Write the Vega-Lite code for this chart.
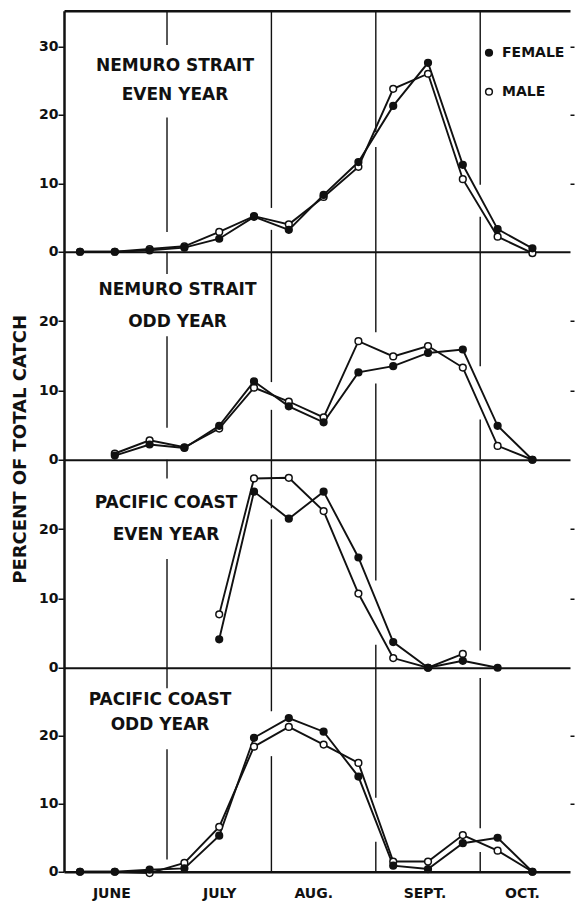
{
  "$schema": "https://vega.github.io/schema/vega-lite/v6.json",
  "usermeta": {"embedOptions": {"actions": false}},
  "background": "white",
  "padding": {"left": 12, "top": 9.75, "right": 0, "bottom": 0},
  "title": {"text": "PERCENT OF TOTAL CATCH", "orient": "left", "anchor": "middle", "offset": 8.5, "dx": 6, "font": "DejaVu Sans", "fontSize": 18, "fontWeight": "bold", "color": "#111"},
  "config": {
    "view": {"stroke": null},
    "font": "DejaVu Sans",
    "axis": {"labelFont": "DejaVu Sans", "labelFontWeight": "bold", "labelFontSize": 14, "labelColor": "#111", "domainColor": "#111", "tickColor": "#111", "grid": false}
  },
  "datasets": {
    "catch": [
      {"panel": "NE", "sex": "MALE", "period": 0, "percent": 0},
      {"panel": "NE", "sex": "MALE", "period": 1, "percent": 0},
      {"panel": "NE", "sex": "MALE", "period": 2, "percent": 0.4},
      {"panel": "NE", "sex": "MALE", "period": 3, "percent": 0.8},
      {"panel": "NE", "sex": "MALE", "period": 4, "percent": 2.9},
      {"panel": "NE", "sex": "MALE", "period": 5, "percent": 5.2},
      {"panel": "NE", "sex": "MALE", "period": 6, "percent": 4.0},
      {"panel": "NE", "sex": "MALE", "period": 7, "percent": 8.0},
      {"panel": "NE", "sex": "MALE", "period": 8, "percent": 12.4},
      {"panel": "NE", "sex": "MALE", "period": 9, "percent": 23.8},
      {"panel": "NE", "sex": "MALE", "period": 10, "percent": 26.0},
      {"panel": "NE", "sex": "MALE", "period": 11, "percent": 10.6},
      {"panel": "NE", "sex": "MALE", "period": 12, "percent": 2.2},
      {"panel": "NE", "sex": "MALE", "period": 13, "percent": -0.2},
      {"panel": "NO", "sex": "MALE", "period": 1, "percent": 0.9},
      {"panel": "NO", "sex": "MALE", "period": 2, "percent": 2.8},
      {"panel": "NO", "sex": "MALE", "period": 3, "percent": 1.8},
      {"panel": "NO", "sex": "MALE", "period": 4, "percent": 4.5},
      {"panel": "NO", "sex": "MALE", "period": 5, "percent": 10.4},
      {"panel": "NO", "sex": "MALE", "period": 6, "percent": 8.4},
      {"panel": "NO", "sex": "MALE", "period": 7, "percent": 6.1},
      {"panel": "NO", "sex": "MALE", "period": 8, "percent": 17.1},
      {"panel": "NO", "sex": "MALE", "period": 9, "percent": 14.9},
      {"panel": "NO", "sex": "MALE", "period": 10, "percent": 16.4},
      {"panel": "NO", "sex": "MALE", "period": 11, "percent": 13.3},
      {"panel": "NO", "sex": "MALE", "period": 12, "percent": 2.0},
      {"panel": "NO", "sex": "MALE", "period": 13, "percent": 0},
      {"panel": "PE", "sex": "MALE", "period": 4, "percent": 7.7},
      {"panel": "PE", "sex": "MALE", "period": 5, "percent": 27.3},
      {"panel": "PE", "sex": "MALE", "period": 6, "percent": 27.4},
      {"panel": "PE", "sex": "MALE", "period": 7, "percent": 22.6},
      {"panel": "PE", "sex": "MALE", "period": 8, "percent": 10.7},
      {"panel": "PE", "sex": "MALE", "period": 9, "percent": 1.4},
      {"panel": "PE", "sex": "MALE", "period": 10, "percent": 0},
      {"panel": "PE", "sex": "MALE", "period": 11, "percent": 2.0},
      {"panel": "PO", "sex": "MALE", "period": 0, "percent": 0},
      {"panel": "PO", "sex": "MALE", "period": 1, "percent": 0},
      {"panel": "PO", "sex": "MALE", "period": 2, "percent": -0.2},
      {"panel": "PO", "sex": "MALE", "period": 3, "percent": 1.3},
      {"panel": "PO", "sex": "MALE", "period": 4, "percent": 6.6},
      {"panel": "PO", "sex": "MALE", "period": 5, "percent": 18.4},
      {"panel": "PO", "sex": "MALE", "period": 6, "percent": 21.3},
      {"panel": "PO", "sex": "MALE", "period": 7, "percent": 18.7},
      {"panel": "PO", "sex": "MALE", "period": 8, "percent": 16.0},
      {"panel": "PO", "sex": "MALE", "period": 9, "percent": 1.5},
      {"panel": "PO", "sex": "MALE", "period": 10, "percent": 1.5},
      {"panel": "PO", "sex": "MALE", "period": 11, "percent": 5.4},
      {"panel": "PO", "sex": "MALE", "period": 12, "percent": 3.1},
      {"panel": "PO", "sex": "MALE", "period": 13, "percent": 0},
      {"panel": "NE", "sex": "FEMALE", "period": 0, "percent": 0},
      {"panel": "NE", "sex": "FEMALE", "period": 1, "percent": 0},
      {"panel": "NE", "sex": "FEMALE", "period": 2, "percent": 0.2},
      {"panel": "NE", "sex": "FEMALE", "period": 3, "percent": 0.6},
      {"panel": "NE", "sex": "FEMALE", "period": 4, "percent": 1.9},
      {"panel": "NE", "sex": "FEMALE", "period": 5, "percent": 5.1},
      {"panel": "NE", "sex": "FEMALE", "period": 6, "percent": 3.2},
      {"panel": "NE", "sex": "FEMALE", "period": 7, "percent": 8.3},
      {"panel": "NE", "sex": "FEMALE", "period": 8, "percent": 13.1},
      {"panel": "NE", "sex": "FEMALE", "period": 9, "percent": 21.3},
      {"panel": "NE", "sex": "FEMALE", "period": 10, "percent": 27.6},
      {"panel": "NE", "sex": "FEMALE", "period": 11, "percent": 12.7},
      {"panel": "NE", "sex": "FEMALE", "period": 12, "percent": 3.3},
      {"panel": "NE", "sex": "FEMALE", "period": 13, "percent": 0.5},
      {"panel": "NO", "sex": "FEMALE", "period": 1, "percent": 0.6},
      {"panel": "NO", "sex": "FEMALE", "period": 2, "percent": 2.2},
      {"panel": "NO", "sex": "FEMALE", "period": 3, "percent": 1.7},
      {"panel": "NO", "sex": "FEMALE", "period": 4, "percent": 4.9},
      {"panel": "NO", "sex": "FEMALE", "period": 5, "percent": 11.3},
      {"panel": "NO", "sex": "FEMALE", "period": 6, "percent": 7.7},
      {"panel": "NO", "sex": "FEMALE", "period": 7, "percent": 5.4},
      {"panel": "NO", "sex": "FEMALE", "period": 8, "percent": 12.6},
      {"panel": "NO", "sex": "FEMALE", "period": 9, "percent": 13.5},
      {"panel": "NO", "sex": "FEMALE", "period": 10, "percent": 15.4},
      {"panel": "NO", "sex": "FEMALE", "period": 11, "percent": 15.9},
      {"panel": "NO", "sex": "FEMALE", "period": 12, "percent": 4.9},
      {"panel": "NO", "sex": "FEMALE", "period": 13, "percent": 0},
      {"panel": "PE", "sex": "FEMALE", "period": 4, "percent": 4.1},
      {"panel": "PE", "sex": "FEMALE", "period": 5, "percent": 25.4},
      {"panel": "PE", "sex": "FEMALE", "period": 6, "percent": 21.5},
      {"panel": "PE", "sex": "FEMALE", "period": 7, "percent": 25.4},
      {"panel": "PE", "sex": "FEMALE", "period": 8, "percent": 15.9},
      {"panel": "PE", "sex": "FEMALE", "period": 9, "percent": 3.7},
      {"panel": "PE", "sex": "FEMALE", "period": 10, "percent": 0},
      {"panel": "PE", "sex": "FEMALE", "period": 11, "percent": 1.0},
      {"panel": "PE", "sex": "FEMALE", "period": 12, "percent": 0},
      {"panel": "PO", "sex": "FEMALE", "period": 0, "percent": 0},
      {"panel": "PO", "sex": "FEMALE", "period": 1, "percent": 0},
      {"panel": "PO", "sex": "FEMALE", "period": 2, "percent": 0.3},
      {"panel": "PO", "sex": "FEMALE", "period": 3, "percent": 0.5},
      {"panel": "PO", "sex": "FEMALE", "period": 4, "percent": 5.3},
      {"panel": "PO", "sex": "FEMALE", "period": 5, "percent": 19.7},
      {"panel": "PO", "sex": "FEMALE", "period": 6, "percent": 22.6},
      {"panel": "PO", "sex": "FEMALE", "period": 7, "percent": 20.6},
      {"panel": "PO", "sex": "FEMALE", "period": 8, "percent": 14.0},
      {"panel": "PO", "sex": "FEMALE", "period": 9, "percent": 0.9},
      {"panel": "PO", "sex": "FEMALE", "period": 10, "percent": 0.4},
      {"panel": "PO", "sex": "FEMALE", "period": 11, "percent": 4.2},
      {"panel": "PO", "sex": "FEMALE", "period": 12, "percent": 5.0},
      {"panel": "PO", "sex": "FEMALE", "period": 13, "percent": 0}
    ],
    "dividers": [
      {"panel": "NE", "boundary": 2.5, "from": 30.2, "to": 35.2},
      {"panel": "NE", "boundary": 2.5, "from": 2.9, "to": 19.6},
      {"panel": "NE", "boundary": 5.5, "from": 6.4, "to": 35.2},
      {"panel": "NE", "boundary": 5.5, "from": 0, "to": 3.2},
      {"panel": "NE", "boundary": 8.5, "from": 0, "to": 15.3},
      {"panel": "NE", "boundary": 8.5, "from": 17.5, "to": 35.2},
      {"panel": "NE", "boundary": 11.5, "from": 0, "to": 5.1},
      {"panel": "NE", "boundary": 11.5, "from": 9.8, "to": 35.2},
      {"panel": "NO", "boundary": 2.5, "from": 26.8, "to": 30},
      {"panel": "NO", "boundary": 2.5, "from": 4.6, "to": 17.8},
      {"panel": "NO", "boundary": 5.5, "from": 11.2, "to": 30},
      {"panel": "NO", "boundary": 5.5, "from": 0, "to": 7.2},
      {"panel": "NO", "boundary": 8.5, "from": 18.4, "to": 30},
      {"panel": "NO", "boundary": 8.5, "from": 0, "to": 11},
      {"panel": "NO", "boundary": 11.5, "from": 13.5, "to": 30},
      {"panel": "NO", "boundary": 11.5, "from": 0, "to": 5.8},
      {"panel": "PE", "boundary": 2.5, "from": 27.3, "to": 30},
      {"panel": "PE", "boundary": 2.5, "from": 0, "to": 15.7},
      {"panel": "PE", "boundary": 5.5, "from": 23, "to": 30},
      {"panel": "PE", "boundary": 5.5, "from": 0, "to": 21.4},
      {"panel": "PE", "boundary": 8.5, "from": 12.6, "to": 30},
      {"panel": "PE", "boundary": 8.5, "from": 0, "to": 3.3},
      {"panel": "PE", "boundary": 11.5, "from": 2.5, "to": 30},
      {"panel": "PO", "boundary": 2.5, "from": 27, "to": 30},
      {"panel": "PO", "boundary": 2.5, "from": 1.8, "to": 18},
      {"panel": "PO", "boundary": 5.5, "from": 23.6, "to": 30},
      {"panel": "PO", "boundary": 5.5, "from": 0, "to": 17},
      {"panel": "PO", "boundary": 8.5, "from": 10.9, "to": 30},
      {"panel": "PO", "boundary": 8.5, "from": 0, "to": 4.4},
      {"panel": "PO", "boundary": 11.5, "from": 6.4, "to": 28.5},
      {"panel": "PO", "boundary": 11.5, "from": 0, "to": 2.9}
    ]
  },
  "spacing": 0,
  "bounds": "flush",
  "resolve": {"scale": {"x": "independent", "y": "independent", "fill": "independent"}, "legend": {"fill": "independent"}},
  "vconcat": [
    {
      "width": 506, "height": 241,
      "title": {"text": ["NEMURO STRAIT", "EVEN YEAR"], "orient": "top", "anchor": "start", "frame": "group", "align": "center", "baseline": "top", "offset": -93.5, "dx": 111, "lineHeight": 29, "font": "DejaVu Sans", "fontSize": 17, "fontWeight": "bold", "color": "#111"},
      "layer": [
        {
          "data": {"name": "dividers"},
          "transform": [{"filter": "datum.panel === 'NE'"}],
          "mark": {"type": "rule", "color": "#111", "strokeWidth": 1.4},
          "encoding": {
            "x": {"field": "boundary", "type": "quantitative", "scale": {"domain": [-0.46, 14.08], "nice": false, "zero": false}, "axis": {"orient": "top", "ticks": false, "labels": false, "tickSize": 0, "domainWidth": 2.5, "title": null}},
            "y": {"field": "from", "type": "quantitative", "scale": {"domain": [0, 35.2], "nice": false, "zero": false}, "axis": {"orient": "right", "domain": false, "labels": false, "values": [10, 20, 30], "tickSize": 4, "tickWidth": 1.5, "title": null}},
            "y2": {"field": "to"}
          }
        },
        {
          "data": {"name": "catch"},
          "transform": [{"filter": "datum.panel === 'NE'"}],
          "mark": {"type": "line", "color": "#111", "strokeWidth": 1.9},
          "encoding": {
            "x": {"field": "period", "type": "quantitative", "axis": {"orient": "bottom", "ticks": false, "labels": false, "tickSize": 0, "domainWidth": 1.8, "title": null}},
            "y": {"field": "percent", "type": "quantitative", "axis": {"orient": "left", "values": [0, 10, 20, 30], "tickSize": 6, "tickWidth": 1.5, "labelPadding": 0, "domainWidth": 2.5, "title": null}},
            "detail": {"field": "sex", "type": "nominal"}
          }
        },
        {
          "data": {"name": "catch"},
          "transform": [{"filter": "datum.panel === 'NE'"}],
          "mark": {"type": "point", "shape": "circle", "filled": true, "size": 45, "stroke": "#111", "strokeWidth": 1.5, "opacity": 1},
          "encoding": {
            "x": {"field": "period", "type": "quantitative", "axis": null},
            "y": {"field": "percent", "type": "quantitative", "axis": null},
            "fill": {"field": "sex", "type": "nominal", "scale": {"domain": ["FEMALE", "MALE"], "range": ["#111", "#ffffff"]},
              "legend": {"orient": "none", "legendX": 418, "legendY": 35, "title": null, "symbolType": "circle", "symbolSize": 45, "symbolStrokeColor": "#111", "symbolStrokeWidth": 1.5, "symbolOpacity": 1, "labelFont": "DejaVu Sans", "labelFontWeight": "bold", "labelFontSize": 14, "labelColor": "#111", "labelOffset": 6, "rowPadding": 25}}
          }
        }
      ],
      "resolve": {"axis": {"x": "independent", "y": "independent"}}
    },
    {
      "width": 506, "height": 208,
      "title": {"text": ["NEMURO STRAIT", "ODD YEAR"], "orient": "top", "anchor": "start", "frame": "group", "align": "center", "baseline": "top", "offset": -79.5, "dx": 113.5, "lineHeight": 31.5, "font": "DejaVu Sans", "fontSize": 17, "fontWeight": "bold", "color": "#111"},
      "layer": [
        {
          "data": {"name": "dividers"},
          "transform": [{"filter": "datum.panel === 'NO'"}],
          "mark": {"type": "rule", "color": "#111", "strokeWidth": 1.4},
          "encoding": {
            "x": {"field": "boundary", "type": "quantitative", "scale": {"domain": [-0.46, 14.08], "nice": false, "zero": false}, "axis": null},
            "y": {"field": "from", "type": "quantitative", "scale": {"domain": [0, 30], "nice": false, "zero": false}, "axis": {"orient": "right", "domain": false, "labels": false, "values": [10, 20], "tickSize": 4, "tickWidth": 1.5, "title": null}},
            "y2": {"field": "to"}
          }
        },
        {
          "data": {"name": "catch"},
          "transform": [{"filter": "datum.panel === 'NO'"}],
          "mark": {"type": "line", "color": "#111", "strokeWidth": 1.9},
          "encoding": {
            "x": {"field": "period", "type": "quantitative", "axis": {"orient": "bottom", "ticks": false, "labels": false, "tickSize": 0, "domainWidth": 1.8, "title": null}},
            "y": {"field": "percent", "type": "quantitative", "axis": {"orient": "left", "values": [0, 10, 20], "tickSize": 6, "tickWidth": 1.5, "labelPadding": 0, "domainWidth": 2.5, "title": null}},
            "detail": {"field": "sex", "type": "nominal"}
          }
        },
        {
          "data": {"name": "catch"},
          "transform": [{"filter": "datum.panel === 'NO'"}],
          "mark": {"type": "point", "shape": "circle", "filled": true, "size": 45, "stroke": "#111", "strokeWidth": 1.5, "opacity": 1},
          "encoding": {
            "x": {"field": "period", "type": "quantitative", "axis": null},
            "y": {"field": "percent", "type": "quantitative", "axis": null},
            "fill": {"field": "sex", "type": "nominal", "scale": {"domain": ["FEMALE", "MALE"], "range": ["#111", "#ffffff"]}, "legend": null}
          }
        }
      ],
      "resolve": {"axis": {"x": "independent", "y": "independent"}}
    },
    {
      "width": 506, "height": 208,
      "title": {"text": ["PACIFIC COAST", "EVEN YEAR"], "orient": "top", "anchor": "start", "frame": "group", "align": "center", "baseline": "top", "offset": -84.5, "dx": 102, "lineHeight": 31.5, "font": "DejaVu Sans", "fontSize": 17, "fontWeight": "bold", "color": "#111"},
      "layer": [
        {
          "data": {"name": "dividers"},
          "transform": [{"filter": "datum.panel === 'PE'"}],
          "mark": {"type": "rule", "color": "#111", "strokeWidth": 1.4},
          "encoding": {
            "x": {"field": "boundary", "type": "quantitative", "scale": {"domain": [-0.46, 14.08], "nice": false, "zero": false}, "axis": null},
            "y": {"field": "from", "type": "quantitative", "scale": {"domain": [0, 30], "nice": false, "zero": false}, "axis": {"orient": "right", "domain": false, "labels": false, "values": [10, 20], "tickSize": 4, "tickWidth": 1.5, "title": null}},
            "y2": {"field": "to"}
          }
        },
        {
          "data": {"name": "catch"},
          "transform": [{"filter": "datum.panel === 'PE'"}],
          "mark": {"type": "line", "color": "#111", "strokeWidth": 1.9},
          "encoding": {
            "x": {"field": "period", "type": "quantitative", "axis": {"orient": "bottom", "ticks": false, "labels": false, "tickSize": 0, "domainWidth": 1.8, "title": null}},
            "y": {"field": "percent", "type": "quantitative", "axis": {"orient": "left", "values": [0, 10, 20], "tickSize": 6, "tickWidth": 1.5, "labelPadding": 0, "domainWidth": 2.5, "title": null}},
            "detail": {"field": "sex", "type": "nominal"}
          }
        },
        {
          "data": {"name": "catch"},
          "transform": [{"filter": "datum.panel === 'PE'"}],
          "mark": {"type": "point", "shape": "circle", "filled": true, "size": 45, "stroke": "#111", "strokeWidth": 1.5, "opacity": 1},
          "encoding": {
            "x": {"field": "period", "type": "quantitative", "axis": null},
            "y": {"field": "percent", "type": "quantitative", "axis": null},
            "fill": {"field": "sex", "type": "nominal", "scale": {"domain": ["FEMALE", "MALE"], "range": ["#111", "#ffffff"]}, "legend": null}
          }
        }
      ],
      "resolve": {"axis": {"x": "independent", "y": "independent"}}
    },
    {
      "width": 506, "height": 204,
      "title": {"text": ["PACIFIC COAST", "ODD YEAR"], "orient": "top", "anchor": "start", "frame": "group", "align": "center", "baseline": "top", "offset": -66.5, "dx": 96, "lineHeight": 24.5, "font": "DejaVu Sans", "fontSize": 17, "fontWeight": "bold", "color": "#111"},
      "layer": [
        {
          "data": {"name": "dividers"},
          "transform": [{"filter": "datum.panel === 'PO'"}],
          "mark": {"type": "rule", "color": "#111", "strokeWidth": 1.4},
          "encoding": {
            "x": {"field": "boundary", "type": "quantitative", "scale": {"domain": [-0.46, 14.08], "nice": false, "zero": false}, "axis": null},
            "y": {"field": "from", "type": "quantitative", "scale": {"domain": [0, 30], "nice": false, "zero": false}, "axis": {"orient": "right", "domain": false, "labels": false, "values": [10, 20], "tickSize": 4, "tickWidth": 1.5, "title": null}},
            "y2": {"field": "to"}
          }
        },
        {
          "data": {"name": "catch"},
          "transform": [{"filter": "datum.panel === 'PO'"}],
          "mark": {"type": "line", "color": "#111", "strokeWidth": 1.9},
          "encoding": {
            "x": {"field": "period", "type": "quantitative", "axis": {"orient": "bottom", "ticks": false, "tickSize": 0, "values": [0.9, 4, 6.7, 9.9, 12.7], "labelExpr": "datum.value < 2 ? 'JUNE' : datum.value < 5 ? 'JULY' : datum.value < 8 ? 'AUG.' : datum.value < 11 ? 'SEPT.' : 'OCT.'", "labelFontSize": 14, "labelPadding": 15, "labelFlush": false, "labelOverlap": false, "domainWidth": 2.5, "title": null}},
            "y": {"field": "percent", "type": "quantitative", "axis": {"orient": "left", "values": [0, 10, 20], "tickSize": 6, "tickWidth": 1.5, "labelPadding": 0, "domainWidth": 2.5, "title": null}},
            "detail": {"field": "sex", "type": "nominal"}
          }
        },
        {
          "data": {"name": "catch"},
          "transform": [{"filter": "datum.panel === 'PO'"}],
          "mark": {"type": "point", "shape": "circle", "filled": true, "size": 45, "stroke": "#111", "strokeWidth": 1.5, "opacity": 1},
          "encoding": {
            "x": {"field": "period", "type": "quantitative", "axis": null},
            "y": {"field": "percent", "type": "quantitative", "axis": null},
            "fill": {"field": "sex", "type": "nominal", "scale": {"domain": ["FEMALE", "MALE"], "range": ["#111", "#ffffff"]}, "legend": null}
          }
        }
      ],
      "resolve": {"axis": {"x": "independent", "y": "independent"}}
    }
  ]
}
